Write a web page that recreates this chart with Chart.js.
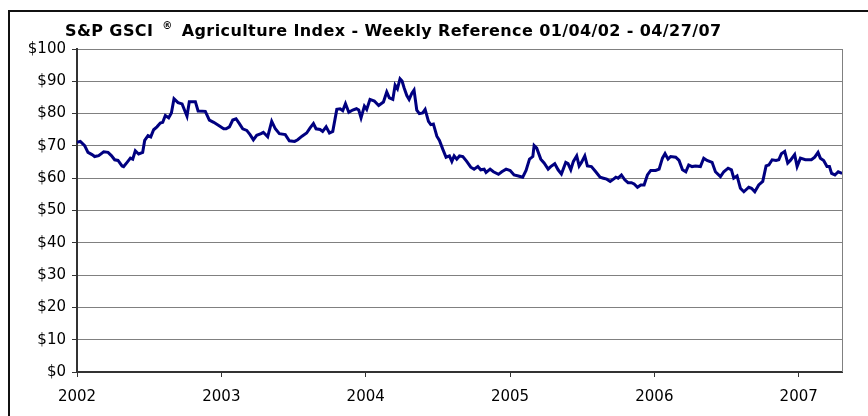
<!DOCTYPE html>
<html>
<head>
<meta charset="utf-8">
<script src="https://cdn.jsdelivr.net/npm/chart.js@4.4.1/dist/chart.umd.min.js"></script>
<style>
    html, body { margin: 0; padding: 0; background: #fff; }
    canvas { display: block; }
</style>
</head>
<body>
<canvas id="gsciChart" width="868" height="416"></canvas>
<script>
// S&P GSCI Agriculture Index - weekly reference
// dates as decimal years
const weekYear = [
    2002.000, 2002.023, 2002.053, 2002.076, 2002.104, 2002.122, 2002.150, 2002.185, 2002.215, 2002.238,
    2002.261, 2002.284, 2002.312, 2002.323, 2002.347, 2002.370, 2002.386, 2002.404, 2002.427, 2002.455,
    2002.469, 2002.492, 2002.511, 2002.531, 2002.554, 2002.577, 2002.594, 2002.612, 2002.635, 2002.654,
    2002.672, 2002.700, 2002.728, 2002.762, 2002.778, 2002.820, 2002.839, 2002.889, 2002.917, 2002.947,
    2002.982, 2003.016, 2003.033, 2003.056, 2003.079, 2003.102, 2003.125, 2003.148, 2003.176, 2003.199,
    2003.222, 2003.245, 2003.275, 2003.291, 2003.321, 2003.349, 2003.374, 2003.402, 2003.443, 2003.471,
    2003.508, 2003.529, 2003.559, 2003.591, 2003.615, 2003.638, 2003.656, 2003.684, 2003.702, 2003.726,
    2003.749, 2003.772, 2003.800, 2003.823, 2003.841, 2003.860, 2003.883, 2003.910, 2003.936, 2003.952,
    2003.968, 2003.991, 2004.007, 2004.030, 2004.060, 2004.090, 2004.123, 2004.146, 2004.164, 2004.188,
    2004.204, 2004.220, 2004.238, 2004.252, 2004.266, 2004.285, 2004.301, 2004.320, 2004.335, 2004.354,
    2004.372, 2004.395, 2004.412, 2004.435, 2004.451, 2004.469, 2004.493, 2004.511, 2004.534, 2004.557,
    2004.580, 2004.597, 2004.613, 2004.631, 2004.650, 2004.673, 2004.700, 2004.728, 2004.751, 2004.777,
    2004.797, 2004.821, 2004.834, 2004.862, 2004.885, 2004.920, 2004.943, 2004.973, 2005.001, 2005.028,
    2005.058, 2005.088, 2005.111, 2005.135, 2005.158, 2005.167, 2005.185, 2005.213, 2005.236, 2005.264,
    2005.282, 2005.310, 2005.333, 2005.356, 2005.386, 2005.402, 2005.421, 2005.439, 2005.462, 2005.479,
    2005.495, 2005.518, 2005.536, 2005.564, 2005.594, 2005.624, 2005.647, 2005.670, 2005.694, 2005.710,
    2005.733, 2005.749, 2005.772, 2005.795, 2005.818, 2005.841, 2005.860, 2005.883, 2005.906, 2005.929,
    2005.952, 2005.975, 2006.009, 2006.033, 2006.056, 2006.074, 2006.095, 2006.113, 2006.148, 2006.171,
    2006.195, 2006.218, 2006.238, 2006.261, 2006.285, 2006.319, 2006.342, 2006.365, 2006.400, 2006.423,
    2006.458, 2006.481, 2006.511, 2006.534, 2006.550, 2006.573, 2006.596, 2006.620, 2006.654, 2006.673,
    2006.696, 2006.723, 2006.751, 2006.774, 2006.793, 2006.816, 2006.843, 2006.862, 2006.880, 2006.903,
    2006.924, 2006.942, 2006.972, 2006.989, 2007.012, 2007.046, 2007.088, 2007.111, 2007.134, 2007.150,
    2007.173, 2007.196, 2007.213, 2007.228, 2007.251, 2007.274, 2007.301
];

const indexValue = [
    71.1, 71.4, 70.1, 68.0, 67.3, 66.7, 67.0, 68.2, 68.0, 67.0,
    65.7, 65.5, 63.8, 63.6, 64.9, 66.2, 65.9, 68.5, 67.5, 68.0,
    71.7, 73.2, 72.8, 75.0, 75.9, 77.1, 77.3, 79.4, 78.7, 80.2,
    84.6, 83.4, 83.0, 79.2, 83.7, 83.7, 80.8, 80.7, 78.0, 77.3,
    76.3, 75.3, 75.3, 75.9, 78.0, 78.4, 76.9, 75.3, 74.8, 73.5,
    71.9, 73.3, 73.8, 74.2, 72.8, 77.6, 75.3, 73.8, 73.5, 71.6,
    71.4, 71.9, 73.0, 74.0, 75.6, 76.9, 75.3, 75.1, 74.5, 75.9,
    74.0, 74.5, 81.3, 81.5, 80.9, 83.1, 80.4, 81.1, 81.5, 81.1,
    78.7, 82.3, 81.3, 84.4, 83.9, 82.5, 83.6, 86.7, 84.9, 84.4,
    88.8, 87.7, 90.8, 90.1, 88.0, 85.6, 84.4, 86.3, 87.3, 81.1,
    80.0, 80.2, 81.3, 77.6, 76.6, 76.8, 73.0, 71.7, 69.0, 66.5,
    66.9, 65.2, 66.9, 65.9, 66.9, 66.7, 65.2, 63.4, 62.8, 63.6,
    62.6, 62.8, 61.8, 62.8, 62.0, 61.2, 62.0, 62.8, 62.4, 61.0,
    60.7, 60.3, 62.4, 65.9, 66.7, 70.1, 69.3, 65.9, 64.7, 62.8,
    63.6, 64.5, 62.6, 61.3, 64.9, 64.5, 62.6, 65.2, 66.9, 63.8,
    64.9, 66.9, 63.8, 63.6, 62.0, 60.3, 60.0, 59.7, 59.0, 59.5,
    60.3, 60.0, 61.0, 59.5, 58.6, 58.6, 58.2, 57.2, 57.9, 57.9,
    61.0, 62.4, 62.4, 62.8, 66.2, 67.6, 65.9, 66.7, 66.5, 65.5,
    62.6, 62.0, 64.1, 63.6, 63.8, 63.6, 66.2, 65.5, 64.9, 62.0,
    60.5, 62.0, 63.1, 62.6, 60.0, 60.7, 56.9, 55.8, 57.2, 56.9,
    55.8, 57.9, 59.0, 63.8, 64.1, 65.7, 65.5, 65.7, 67.6, 68.3,
    64.7, 65.5, 67.3, 63.6, 66.2, 65.7, 65.7, 66.5, 68.0, 66.2,
    65.5, 63.6, 63.6, 61.5, 61.0, 62.0, 61.5
];

const yearTicks = [2002, 2003, 2004, 2005, 2006, 2007];
const titleParts = ['S&P GSCI', '\u00AE', 'Agriculture Index - Weekly Reference 01/04/02 - 04/27/07'];

const FONT = "'DejaVu Sans', Verdana, sans-serif";

// frame, right edge of plot area and the title with a raised (R)
const framePlugin = {
    id: 'frame',
    beforeDraw: function(chart) {
        const ctx = chart.ctx;
        ctx.save();
        ctx.fillStyle = '#fff';
        ctx.fillRect(0, 0, chart.width, chart.height);
        ctx.restore();
    },
    afterDraw: function(chart) {
        const ctx = chart.ctx;
        const area = chart.chartArea;
        ctx.save();
        ctx.strokeStyle = '#808080';
        ctx.lineWidth = 1;
        ctx.beginPath();
        ctx.moveTo(Math.round(area.right) + 0.5, area.top);
        ctx.lineTo(Math.round(area.right) + 0.5, area.bottom);
        ctx.stroke();

        ctx.strokeStyle = '#111';
        ctx.lineWidth = 2;
        ctx.strokeRect(9, 11, 900, 500);

        ctx.fillStyle = '#000';
        ctx.textBaseline = 'alphabetic';
        ctx.textAlign = 'left';
        ctx.letterSpacing = '0.4px';
        let x = 65;
        const base = 36;
        ctx.font = 'bold 16px ' + FONT;
        ctx.fillText(titleParts[0], x, base);
        x += ctx.measureText(titleParts[0]).width + 9;
        ctx.font = 'bold 10px ' + FONT;
        ctx.fillText(titleParts[1], x, base - 7);
        x += ctx.measureText(titleParts[1]).width + 9;
        ctx.font = 'bold 16px ' + FONT;
        ctx.fillText(titleParts[2], x, base);
        ctx.restore();
    }
};

const points = weekYear.map((w, i) => ({ x: w, y: indexValue[i] }));

const ctx = document.getElementById('gsciChart').getContext('2d');
new Chart(ctx, {
    type: 'line',
    data: {
        datasets: [{
            label: 'S&P GSCI Agriculture Index',
            data: points,
            borderColor: '#000080',
            borderWidth: 3,
            pointRadius: 0,
            tension: 0,
            fill: false
        }]
    },
    options: {
        responsive: false,
        animation: false,
        devicePixelRatio: 1,
        layout: {
            padding: { top: 49, right: 26, left: 0, bottom: 0 }
        },
        plugins: {
            legend: { display: false },
            title: { display: false },
            tooltip: { enabled: false }
        },
        scales: {
            x: {
                type: 'linear',
                min: 2002,
                max: 2007.30,
                afterBuildTicks: function(scale) {
                    scale.ticks = yearTicks.map(v => ({ value: v }));
                },
                afterFit: function(scale) { scale.height = 44; },
                grid: {
                    drawOnChartArea: false,
                    drawTicks: true,
                    tickLength: 5,
                    tickColor: '#333'
                },
                border: { color: '#333', width: 2 },
                ticks: {
                    color: '#000',
                    padding: 11,
                    maxRotation: 0,
                    font: { family: FONT, size: 15 },
                    callback: v => String(v)
                }
            },
            y: {
                min: 0,
                max: 100,
                afterFit: function(scale) { scale.width = 77; },
                grid: {
                    color: '#808080',
                    lineWidth: 1,
                    tickLength: 5,
                    tickColor: '#333'
                },
                border: { color: '#333', width: 2 },
                ticks: {
                    stepSize: 10,
                    color: '#000',
                    padding: 6,
                    font: { family: FONT, size: 15 },
                    callback: v => '$' + v
                }
            }
        }
    },
    plugins: [framePlugin]
});
</script>
</body>
</html>
